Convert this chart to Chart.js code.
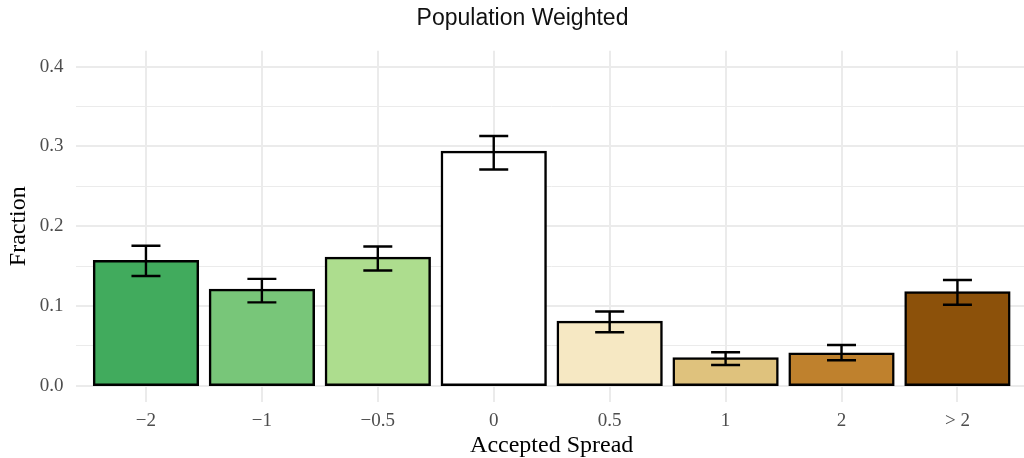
<!DOCTYPE html>
<html>
<head>
<meta charset="utf-8">
<title>Population Weighted</title>
<script src="https://cdn.jsdelivr.net/npm/chart.js@4"></script>
<style>
  html, body { margin: 0; padding: 0; background: #fff; overflow: hidden; }
  #wrap { width: 1027px; height: 458px; }
</style>
</head>
<body>
<div id="wrap"><canvas id="spread-chart" width="1027" height="458"></canvas></div>
<script>
// accepted spread buckets and the weighted fraction in each
var categories = ['\u22122', '\u22121', '\u22120.5', '0', '0.5', '1', '2', '> 2'];
var fraction   = [0.156, 0.120, 0.160, 0.293, 0.080, 0.034, 0.040, 0.117];
var errLow     = [0.1375, 0.1045, 0.1445, 0.271, 0.067, 0.026, 0.032, 0.1015];
var errHigh    = [0.1755, 0.134, 0.1745, 0.313, 0.093, 0.042, 0.051, 0.1325];
var barColors  = ['#41AB5D', '#78C679', '#ADDD8E', '#FFFFFF', '#F6E8C3', '#DFC27D', '#BF812D', '#8C510A'];
var yTicks     = [0.0, 0.1, 0.2, 0.3, 0.4];

var serif = "'Liberation Serif', 'Times New Roman', serif";

function isMajor(v) {
  return yTicks.some(function (t) { return Math.abs(t - v) < 1e-6; });
}

// whiskers on top of the bars
var errorBars = {
  id: 'errorBars',
  afterDatasetsDraw: function (chart) {
    var x = chart.scales.x, y = chart.scales.y, ctx = chart.ctx;
    ctx.save();
    ctx.strokeStyle = '#000';
    ctx.lineWidth = 2.4;
    ctx.lineCap = 'butt';
    for (var i = 0; i < categories.length; i++) {
      var cx = x.getPixelForValue(i);
      var half = x.getPixelForValue(i + 0.125) - cx;
      var yl = y.getPixelForValue(errLow[i]);
      var yh = y.getPixelForValue(errHigh[i]);
      ctx.beginPath();
      ctx.moveTo(cx, yl); ctx.lineTo(cx, yh);
      ctx.moveTo(cx - half, yl); ctx.lineTo(cx + half, yl);
      ctx.moveTo(cx - half, yh); ctx.lineTo(cx + half, yh);
      ctx.stroke();
    }
    ctx.restore();
  }
};

var chart = new Chart(document.getElementById('spread-chart'), {
  type: 'bar',
  data: {
    datasets: [{
      data: categories.map(function (c, i) { return { x: i, y: fraction[i] }; }),
      backgroundColor: barColors,
      borderColor: '#000',
      borderWidth: 2.5,
      borderSkipped: false,
      inflateAmount: 1.25,   // outline straddles the bar edge
      barPercentage: 0.895,
      categoryPercentage: 1.0
    }]
  },
  options: {
    responsive: false,
    animation: false,
    layout: { padding: { left: 18, right: 0, top: 0, bottom: 0 } },
    plugins: {
      legend: { display: false },
      tooltip: { enabled: false },
      title: {
        display: true,
        text: 'Population Weighted',
        color: '#111',
        font: { family: "'Liberation Sans', Arial, sans-serif", size: 23, weight: 'normal', lineHeight: 1 },
        padding: { top: 7, bottom: 20.7 }
      }
    },
    scales: {
      x: {
        type: 'linear',
        min: -0.6,
        max: 7.6,
        offset: false,
        grid: { offset: false, color: '#EBEBEB', lineWidth: 2, drawTicks: false },
        border: { display: false },
        ticks: {
          stepSize: 1,
          includeBounds: false,
          autoSkip: false,
          maxRotation: 0,
          padding: 8,
          color: '#4D4D4D',
          font: { family: serif, size: 19 },
          callback: function (v) { return categories[v] !== undefined ? categories[v] : ''; }
        },
        title: {
          display: true,
          text: 'Accepted Spread',
          color: '#000',
          font: { family: serif, size: 24, lineHeight: 1 },
          padding: { top: 0, bottom: 0 }
        },
        afterFit: function (scale) { scale.height = 56.3; }
      },
      y: {
        min: -0.02,
        max: 0.42,
        grid: {
          color: '#EBEBEB',
          drawTicks: false,
          lineWidth: function (c) { return c.tick && isMajor(c.tick.value) ? 2 : 1; }
        },
        border: { display: false },
        ticks: {
          stepSize: 0.05,
          includeBounds: false,
          padding: 13,
          color: '#4D4D4D',
          font: { family: serif, size: 19 },
          callback: function (v) { return isMajor(v) ? v.toFixed(1) : ''; }
        },
        title: {
          display: true,
          text: 'Fraction',
          color: '#000',
          font: { family: serif, size: 24, lineHeight: 0.1 },
          padding: { top: 0, bottom: 0 }
        },
        afterFit: function (scale) { scale.width = 58.4; }
      }
    }
  },
  plugins: [errorBars]
});
</script>
</body>
</html>
